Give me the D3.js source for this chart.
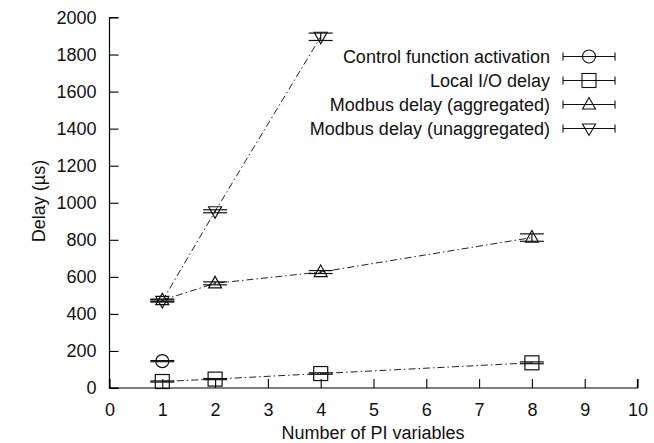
<!DOCTYPE html>
<html>
<head>
<meta charset="utf-8">
<script src="https://cdn.jsdelivr.net/npm/d3@7"></script>
<style>
  body { margin: 0; background: #fff; }
  text { font-family: "Liberation Sans", Arial, sans-serif; fill: #111; }
</style>
</head>
<body>
<svg width="654" height="443"></svg>
<script>
// series values (µs)
const ctrlX = [1], ctrlY = [145], ctrlErr = [3];
const localX = [1, 2, 4, 8], localY = [35, 48, 78, 136], localErr = [3, 3, 4, 5];
const aggX = [1, 2, 4, 8], aggY = [474, 565, 626, 812], aggErr = [6, 8, 8, 20];
const unaggX = [1, 2, 4], unaggY = [470, 954, 1896], unaggErr = [6, 8, 20];

const seriesNames = ["Control function activation", "Local I/O delay",
  "Modbus delay (aggregated)", "Modbus delay (unaggregated)"];
const xTicks = [0, 1, 2, 3, 4, 5, 6, 7, 8, 9, 10];
const yTicks = [0, 200, 400, 600, 800, 1000, 1200, 1400, 1600, 1800, 2000];

const svg = d3.select("svg");
const x = d3.scaleLinear().domain([0, 10]).range([109.5, 637.5]);
const y = d3.scaleLinear().domain([0, 2000]).range([388, 17.5]);

// point shapes, gnuplot style open symbols
const shapes = {
  circle: g => g.append("circle").attr("r", 6.5),
  square: g => g.append("rect").attr("x", -7).attr("y", -7).attr("width", 14).attr("height", 14),
  up: g => g.append("path").attr("d", "M0,-7L6.5,4.5L-6.5,4.5Z"),
  down: g => g.append("path").attr("d", "M0,7L6.5,-4.5L-6.5,-4.5Z")
};

const series = [
  { name: seriesNames[0], xs: ctrlX, ys: ctrlY, es: ctrlErr, shape: "circle", line: false },
  { name: seriesNames[1], xs: localX, ys: localY, es: localErr, shape: "square", line: true },
  { name: seriesNames[2], xs: aggX, ys: aggY, es: aggErr, shape: "up", line: true },
  { name: seriesNames[3], xs: unaggX, ys: unaggY, es: unaggErr, shape: "down", line: true }
];

// axes (only left and bottom, ticks inward)
const xAxis = d3.axisBottom(x).tickValues(xTicks).tickFormat(d3.format("d")).tickSize(-9).tickPadding(15);
const yAxis = d3.axisLeft(y).tickValues(yTicks).tickFormat(d3.format("d")).tickSize(-9).tickPadding(13);

const gx = svg.append("g").attr("transform", "translate(0,388)").call(xAxis);
const gy = svg.append("g").attr("transform", "translate(109.5,0)").call(yAxis);
[gx, gy].forEach(g => {
  g.select(".domain").attr("stroke", "#000").attr("stroke-width", 1.2);
  g.selectAll(".tick line").attr("stroke", "#000").attr("stroke-width", 1.1);
  g.selectAll("text").style("font-size", "18px").attr("fill", "#111");
});
gx.select(".domain").attr("d", "M109.5,-9V0H637.5V-9");
gy.select(".domain").attr("d", "M9,17.5H0V388H9");

svg.append("text")
  .attr("x", 373).attr("y", 439)
  .attr("text-anchor", "middle")
  .style("font-size", "18px")
  .text("Number of PI variables");

svg.append("text")
  .attr("transform", "translate(45,201) rotate(-90)")
  .attr("text-anchor", "middle")
  .style("font-size", "18px")
  .text("Delay (µs)");

const line = d3.line().x(d => x(d[0])).y(d => y(d[1]));

series.forEach(s => {
  const pts = s.xs.map((v, i) => [v, s.ys[i], s.es[i]]);
  if (s.line) {
    svg.append("path")
      .attr("d", line(pts))
      .attr("fill", "none")
      .attr("stroke", "#222")
      .attr("stroke-width", 1)
      .attr("stroke-dasharray", "7,3,1.5,3");
  }
  const g = svg.append("g").attr("fill", "none").attr("stroke", "#111").attr("stroke-width", 1.2);
  pts.forEach(p => {
    const cx = x(p[0]);
    const y0 = y(p[1] - p[2]), y1 = y(p[1] + p[2]);
    g.append("line").attr("x1", cx).attr("x2", cx).attr("y1", y0).attr("y2", y1);
    g.append("line").attr("x1", cx - 12).attr("x2", cx + 12).attr("y1", y0).attr("y2", y0);
    g.append("line").attr("x1", cx - 12).attr("x2", cx + 12).attr("y1", y1).attr("y2", y1);
    const m = g.append("g").attr("transform", `translate(${cx},${y(p[1])})`);
    shapes[s.shape](m);
  });
});

// legend
const legend = svg.append("g");
series.forEach((s, i) => {
  const cy = 56.5 + i * 24;
  legend.append("text")
    .attr("x", 550).attr("y", cy + 6.5)
    .attr("text-anchor", "end")
    .style("font-size", "18px")
    .text(s.name);
  const g = legend.append("g").attr("fill", "none").attr("stroke", "#111").attr("stroke-width", 1.1);
  g.append("line").attr("x1", 563).attr("x2", 615).attr("y1", cy).attr("y2", cy);
  g.append("line").attr("x1", 563).attr("x2", 563).attr("y1", cy - 4).attr("y2", cy + 4);
  g.append("line").attr("x1", 615).attr("x2", 615).attr("y1", cy - 4).attr("y2", cy + 4);
  const m = g.append("g").attr("transform", `translate(589,${cy})`);
  shapes[s.shape](m);
});
</script>
</body>
</html>
